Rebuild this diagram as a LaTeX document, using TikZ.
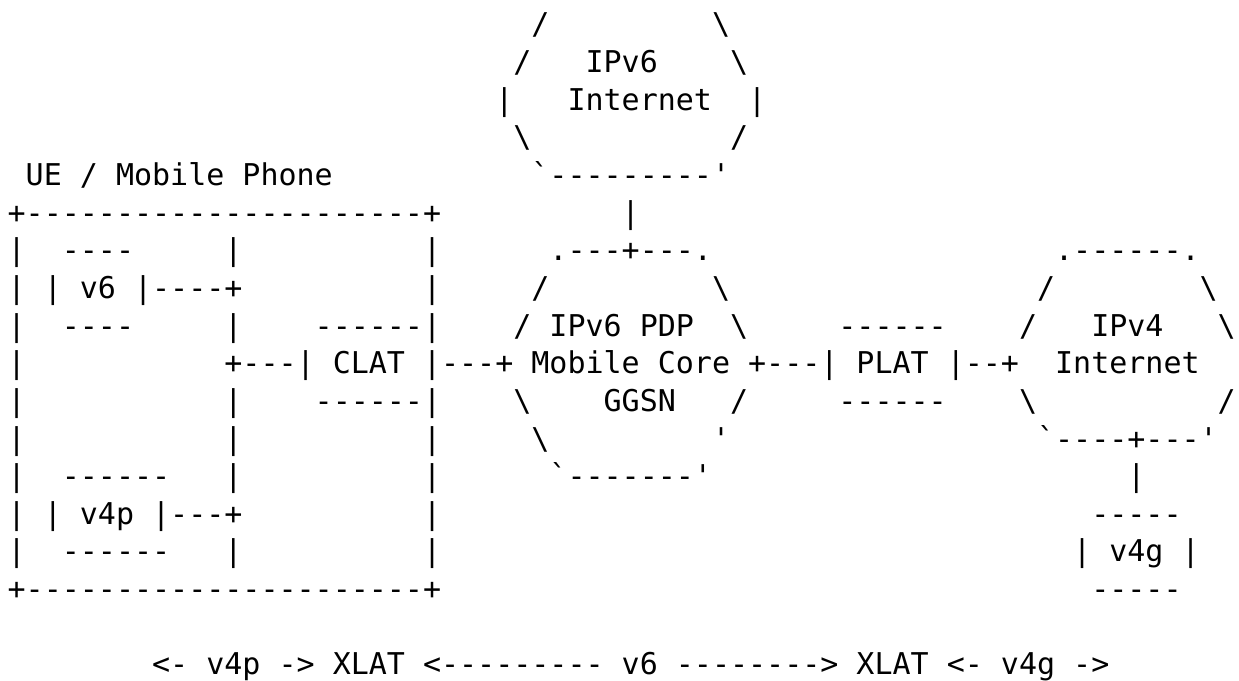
\documentclass[tikz,border=0pt]{standalone}
\usepackage{fontspec}
\setmonofont{DejaVu Sans Mono}

\begin{document}
\begin{tikzpicture}[
    x=9.03pt,
    y=-18.825pt,
    ascii/.style={anchor=base west, inner sep=0pt, outer sep=0pt,
        font=\fontsize{15pt}{18pt}\selectfont\ttfamily}]
    \useasboundingbox (-0.425,-0.926) rectangle (68.18,17.162);

       \node[ascii] (inet6_a_l) at (29,0) {/};
       \node[ascii] (inet6_a_r) at (39,0) {\textbackslash};
       \node[ascii] (inet6_b_l) at (28,1) {/};
       \node[ascii] (inet6_name) at (32,1) {IPv6};
       \node[ascii] (inet6_b_r) at (40,1) {\textbackslash};
       \node[ascii] (inet6_c_l) at (27,2) {|};
       \node[ascii] (inet6_inet) at (31,2) {Internet};
       \node[ascii] (inet6_c_r) at (41,2) {|};
       \node[ascii] (inet6_d_l) at (28,3) {\textbackslash};
       \node[ascii] (inet6_d_r) at (40,3) {/};
       \node[ascii] (ue_label) at (1,4) {UE / Mobile Phone};
       \node[ascii] (inet6_bottom) at (29,4) {`---------'};

       \node[ascii] (ue_top) at (0,5) {+----------------------+};
       \node[ascii] (inet6_link) at (34,5) {|};

       \node[ascii] (ue_l6) at (0,6) {|};
       \node[ascii] (v6_top) at (3,6) {----};
       \node[ascii] (bus_6) at (12,6) {|};
       \node[ascii] (ue_r6) at (23,6) {|};
       \node[ascii] (pdp_top) at (30,6) {.---+---.};
       \node[ascii] (inet4_top) at (58,6) {.------.};

       \node[ascii] (ue_l7) at (0,7) {|};
       \node[ascii] (v6_box) at (2,7) {| v6 |----+};
       \node[ascii] (ue_r7) at (23,7) {|};
       \node[ascii] (pdp_a_l) at (29,7) {/};
       \node[ascii] (pdp_a_r) at (39,7) {\textbackslash};
       \node[ascii] (inet4_a_l) at (57,7) {/};
       \node[ascii] (inet4_a_r) at (66,7) {\textbackslash};

       \node[ascii] (ue_l8) at (0,8) {|};
       \node[ascii] (v6_bot) at (3,8) {----};
       \node[ascii] (bus_8) at (12,8) {|};
       \node[ascii] (clat_top) at (17,8) {------|};
       \node[ascii] (pdp_b_l) at (28,8) {/};
       \node[ascii] (pdp_name) at (30,8) {IPv6 PDP};
       \node[ascii] (pdp_b_r) at (40,8) {\textbackslash};
       \node[ascii] (plat_top) at (46,8) {------};
       \node[ascii] (inet4_b_l) at (56,8) {/};
       \node[ascii] (inet4_name) at (60,8) {IPv4};
       \node[ascii] (inet4_b_r) at (67,8) {\textbackslash};

       \node[ascii] (ue_l9) at (0,9) {|};
       \node[ascii] (clat_box) at (12,9) {+---| CLAT |---+};
       \node[ascii] (pdp_core) at (29,9) {Mobile Core};
       \node[ascii] (plat_box) at (41,9) {+---| PLAT |--+};
       \node[ascii] (inet4_inet) at (58,9) {Internet};

       \node[ascii] (ue_l10) at (0,10) {|};
       \node[ascii] (bus_10) at (12,10) {|};
       \node[ascii] (clat_bot) at (17,10) {------|};
       \node[ascii] (pdp_c_l) at (28,10) {\textbackslash};
       \node[ascii] (pdp_ggsn) at (33,10) {GGSN};
       \node[ascii] (pdp_c_r) at (40,10) {/};
       \node[ascii] (plat_bot) at (46,10) {------};
       \node[ascii] (inet4_c_l) at (56,10) {\textbackslash};
       \node[ascii] (inet4_c_r) at (67,10) {/};

       \node[ascii] (ue_l11) at (0,11) {|};
       \node[ascii] (bus_11) at (12,11) {|};
       \node[ascii] (ue_r11) at (23,11) {|};
       \node[ascii] (pdp_d_l) at (29,11) {\textbackslash};
       \node[ascii] (pdp_d_r) at (39,11) {'};
       \node[ascii] (inet4_bottom) at (57,11) {`----+---'};

       \node[ascii] (ue_l12) at (0,12) {|};
       \node[ascii] (v4p_top) at (3,12) {------};
       \node[ascii] (bus_12) at (12,12) {|};
       \node[ascii] (ue_r12) at (23,12) {|};
       \node[ascii] (pdp_bottom) at (30,12) {`-------'};
       \node[ascii] (inet4_link) at (62,12) {|};

       \node[ascii] (ue_l13) at (0,13) {|};
       \node[ascii] (v4p_box) at (2,13) {| v4p |---+};
       \node[ascii] (ue_r13) at (23,13) {|};
       \node[ascii] (v4g_top) at (60,13) {-----};

       \node[ascii] (ue_l14) at (0,14) {|};
       \node[ascii] (v4p_bot) at (3,14) {------};
       \node[ascii] (bus_14) at (12,14) {|};
       \node[ascii] (ue_r14) at (23,14) {|};
       \node[ascii] (v4g_box) at (59,14) {| v4g |};

       \node[ascii] (ue_bottom) at (0,15) {+----------------------+};
       \node[ascii] (v4g_bot) at (60,15) {-----};

       \node[ascii] (xlat_legend) at (8,17) {<- v4p -> XLAT <--------- v6 --------> XLAT <- v4g ->};
    \end{tikzpicture}
\end{document}
